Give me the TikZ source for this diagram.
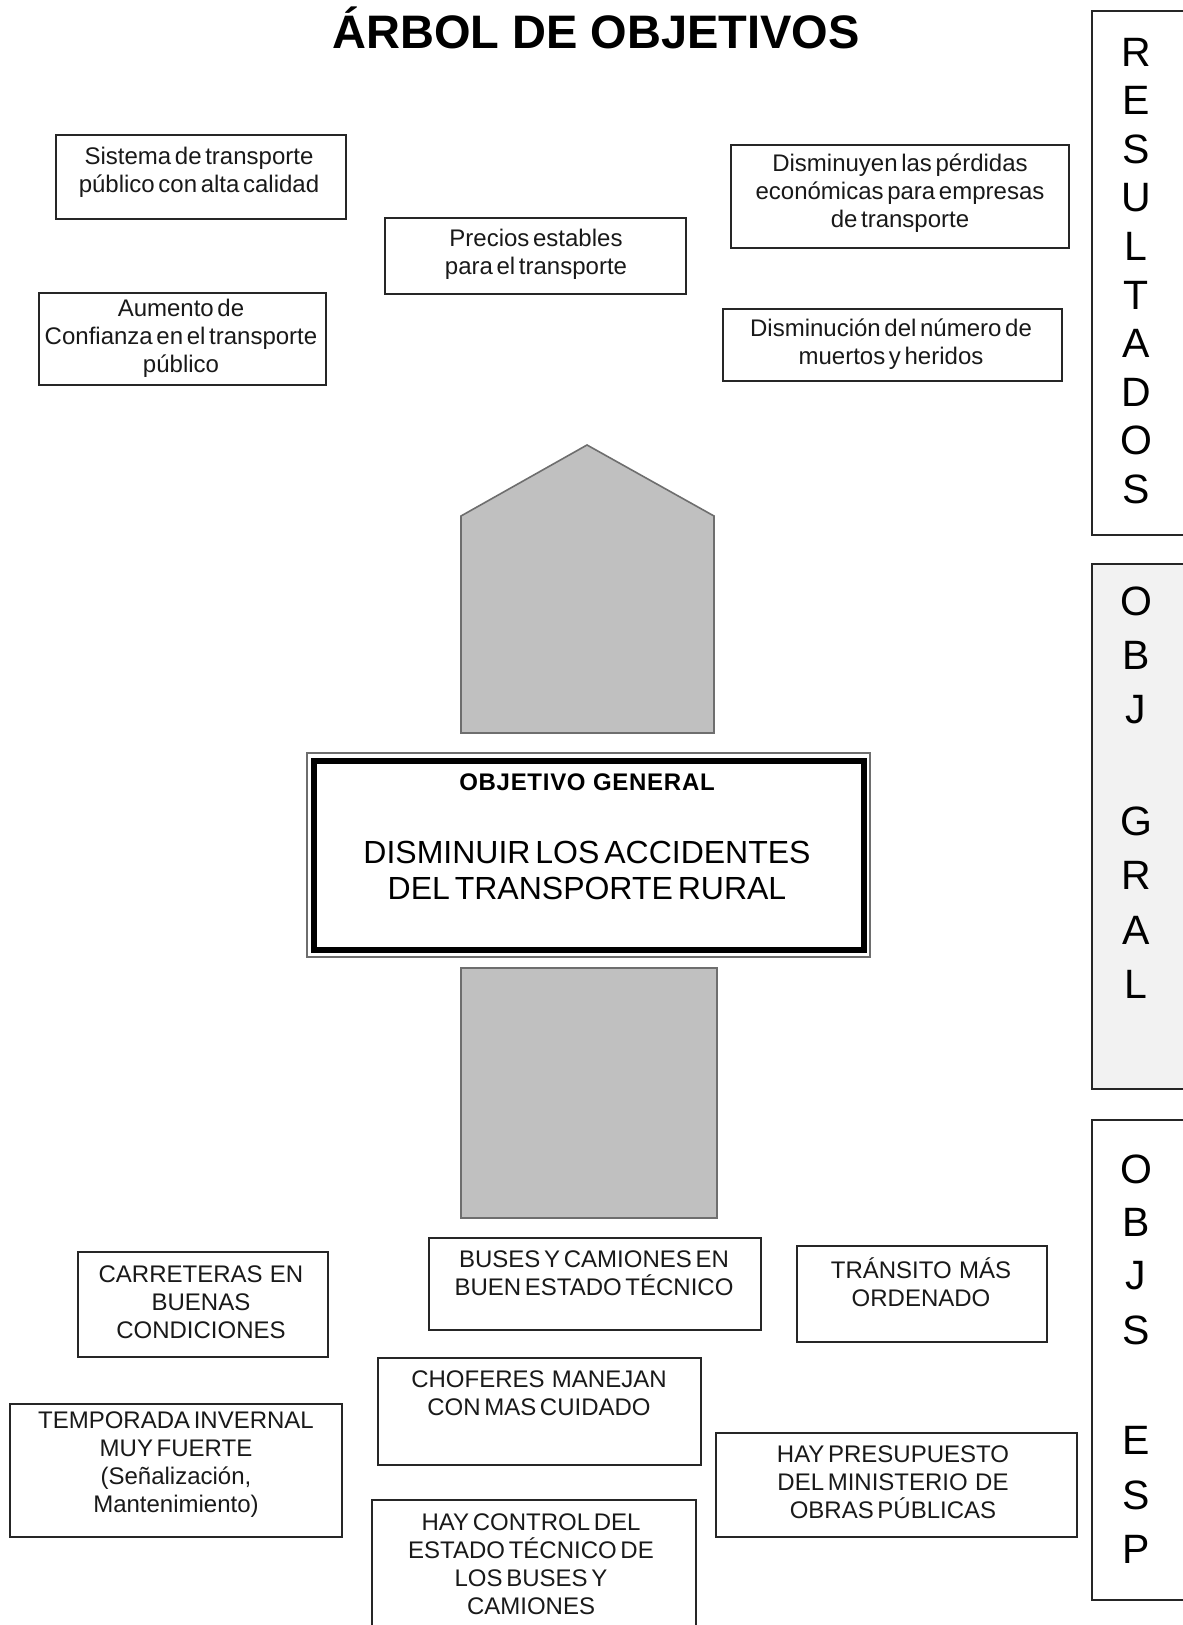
\documentclass[tikz,border=0pt]{standalone}
\usepackage{fontspec}
\setmainfont[WordSpace=0.55]{Liberation Sans}
\newfontfamily\plainsans{Liberation Sans}
\newfontfamily\spacedsans[LetterSpace=3]{Liberation Sans}
\definecolor{arrowgray}{HTML}{C0C0C0}
\definecolor{edgegray}{HTML}{6E6E6E}
\definecolor{panelgray}{HTML}{F2F2F2}
\definecolor{boxline}{HTML}{262626}
\begin{document}
\begin{tikzpicture}[x=0.5pt,y=-0.5pt,
  box/.style={draw=boxline, line width=0.8pt, rectangle, inner sep=0pt},
  txt/.style={font=\fontsize{12}{14}\selectfont, align=center, inner sep=0pt, text=black!90},
  panel/.style={draw=boxline, line width=0.8pt, rectangle, inner sep=0pt, anchor=north west, minimum width=47pt},
  sideletter/.style={font=\plainsans\fontsize{20.5}{24}\selectfont, inner sep=0pt},
  bar/.style={fill=arrowgray, draw=edgegray, line width=0.8pt}
]
\useasboundingbox (0,0) rectangle (1182,1625);
\fill[white] (0,0) rectangle (1182,1625);

% title
\node[font=\plainsans\bfseries\fontsize{23.5}{28}\selectfont, inner sep=0pt, anchor=base] (title) at (596,49) {ÁRBOL DE OBJETIVOS};

% side panels
\node[panel, minimum height=262pt] (res) at (1091,10) {};
\node[panel, fill=panelgray, minimum height=262.5pt] (gral) at (1091,563) {};
\node[panel, minimum height=240pt] (esp) at (1091,1119) {};
\foreach \l/\yy [count=\i] in {R/52,E/100.5,S/149,U/197.5,L/246,T/295,A/343.5,D/392,O/440.5,S/489}
  \node[sideletter] (res\i) at (1136,\yy) {\l};
\foreach \l/\yy [count=\i] in {O/601,B/655,J/710,G/821,R/875,A/930,L/984}
  \node[sideletter] (gral\i) at (1136,\yy) {\l};
\foreach \l/\yy [count=\i] in {O/1169,B/1222,J/1276,S/1330,E/1440,S/1495,P/1549}
  \node[sideletter] (esp\i) at (1136,\yy) {\l};

% top boxes (results)
\node[box, minimum width=145pt, minimum height=42pt] (b1) at (201,177) {};
\node[txt] (t1) at (199,172) {Sistema de transporte\\público con alta calidad};
\node[box, minimum width=150.5pt, minimum height=38pt] (b2) at (535.5,256) {};
\node[txt] (t2) at (536,254) {Precios estables\\para el transporte};
\node[box, minimum width=143.5pt, minimum height=46pt] (b3) at (182.5,339) {};
\node[txt] (t3) at (181,338) {Aumento de\\Confianza en el transporte\\público};
\node[box, minimum width=169pt, minimum height=51.5pt] (b4) at (900,196.5) {};
\node[txt] (t4) at (900,193) {Disminuyen las pérdidas\\económicas para empresas\\de transporte};
\node[box, minimum width=169.5pt, minimum height=36pt] (b5) at (892.5,345) {};
\node[txt] (t5) at (891,344) {Disminución del número de\\muertos y heridos};

% arrow up and lower bar
\draw[bar] (461,733) -- (461,516) -- (587,445) -- (714,516) -- (714,733) -- cycle;
\draw[bar] (461,968) rectangle (717,1218);

% general objective
\node[draw=edgegray, line width=0.8pt, minimum width=281.5pt, minimum height=102pt, inner sep=0pt] (goalout) at (588.5,855) {};
\node[draw=black, line width=2.6pt, minimum width=275pt, minimum height=94.5pt, inner sep=0pt] (goal) at (589,855.5) {};
\node[font=\spacedsans\bfseries\fontsize{12}{14}\selectfont, inner sep=0pt] (goalhead) at (587,782) {OBJETIVO GENERAL};
\node[font=\fontsize{16}{18}\selectfont, align=center, inner sep=0pt] (goaltext) at (587,870) {DISMINUIR LOS ACCIDENTES\\DEL TRANSPORTE RURAL};

% bottom boxes (specific objectives)
\node[box, minimum width=166pt, minimum height=46pt] (b6) at (595,1284) {};
\node[txt] (t6) at (594,1273) {BUSES Y CAMIONES EN\\BUEN ESTADO TÉCNICO};
\node[box, minimum width=125pt, minimum height=52.5pt] (b7) at (203,1304.5) {};
\node[txt] (t7) at (201,1302) {CARRETERAS \ EN\\BUENAS\\CONDICIONES};
\node[box, minimum width=125pt, minimum height=48pt] (b8) at (922,1294) {};
\node[txt] (t8) at (921,1282.5) {TRÁNSITO \ MÁS\\ORDENADO};
\node[box, minimum width=161.5pt, minimum height=53.5pt] (b9) at (539.5,1411.5) {};
\node[txt] (t9) at (539,1393) {CHOFERES \ MANEJAN\\CON MAS CUIDADO};
\node[box, minimum width=166pt, minimum height=66.5pt] (b10) at (176,1470.5) {};
\node[txt] (t10) at (176,1465) {TEMPORADA INVERNAL\\MUY FUERTE\\(Señalización,\\Mantenimiento)};
\node[box, minimum width=180.5pt, minimum height=52pt] (b11) at (896.5,1485) {};
\node[txt] (t11) at (893,1482.5) {HAY PRESUPUESTO\\DEL MINISTERIO \ DE\\OBRAS PÚBLICAS};
\node[box, minimum width=162pt, minimum height=70pt] (b12) at (534,1570) {};
\node[txt] (t12) at (531,1564) {HAY CONTROL DEL\\ESTADO TÉCNICO DE\\LOS BUSES Y\\CAMIONES};
\end{tikzpicture}
\end{document}
